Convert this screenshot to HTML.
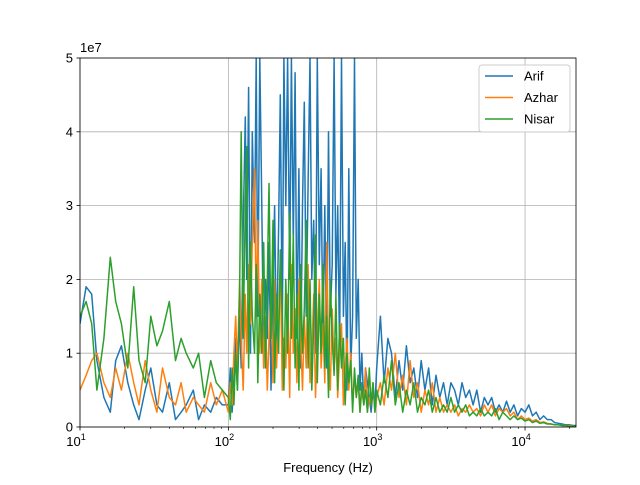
<!DOCTYPE html>
<html><head><meta charset="utf-8"><style>
body{margin:0;background:#fff}
svg{font-family:"Liberation Sans","DejaVu Sans",sans-serif}
</style></head><body>
<svg id="chart" width="640" height="480" xmlns="http://www.w3.org/2000/svg"></svg>
<script>
const freqs=[10,11,12,13,14.5,16,17.4,19,21,23,25,27.5,30,33,36,40,44,48,52,58,63,69,76,83,91,
100,103,106,109,112,115,119,122,126,130,133,137,141,145,150,154,158,163,168,173,178,183,188,194,200,205,211,218,224,231,237,244,251,259,266,274,282,290,299,307,316,325,335,345,355,365,376,387,398,410,422,434,447,460,473,487,501,516,531,546,562,579,596,613,631,649,668,688,708,729,750,772,794,818,841,866,891,917,944,972,
1000,1059,1122,1189,1259,1334,1413,1496,1585,1679,1778,1884,1995,2113,2239,2371,2512,2661,2818,2985,3162,3350,3548,3758,3981,4217,4467,4732,5012,5309,5623,5957,6310,6683,7079,7499,7943,8414,8913,9441,10000,10593,11220,11885,12589,13335,14125,14962,15849,16788,17783,18836,19953,21135,22000];
const arif=[14,19,18,9,4,2,9,11,6,3,1,5,8,3,2,6,1,2,3,5,1,3,2,4,3,
3,8,2,6,12,5,15,8,27,42,20,46,10,40,25,50,15,50,30,8,20,12,25,5,18,30,10,27,45,12,50,30,50,20,50,25,48,12,35,8,30,44,15,33,50,20,28,10,50,22,35,12,30,8,40,15,22,50,18,30,10,50,15,25,5,35,8,15,50,12,20,5,10,3,8,6,4,2,5,3,
8,15,6,12,10,4,9,5,11,6,8,4,9,5,8,3,7,4,6,3,6,5,3,6,4,5,3,5,2,4,3,4,2,3,2,3.5,2,3,1.5,2.5,2,3,1.5,2,1,1.5,1,1,0.6,0.5,0.4,0.3,0.3,0.2,0.2];
const azhar=[5,7,9,10,6,4,8,5,10,6,3,9,5,2,8,4,3,6,2,4,3,2,6,3,5,
2,6,3,10,15,8,20,12,5,18,10,22,14,25,35,15,28,10,20,8,15,5,12,18,6,20,8,15,22,5,12,8,18,4,22,10,16,6,20,12,5,15,8,22,6,10,18,4,12,20,8,14,6,25,10,5,16,8,12,4,10,14,3,8,12,5,10,3,7,4,6,2,5,3,8,2,4,3,6,2,
4,6,3,8,5,10,4,7,3,9,4,6,2,5,3,6,2,4,2,3,2,3,1.5,2.5,2,3,2,2.5,1.5,3,2,3,1.5,2.5,2,2.5,1.5,2,1,1.5,1,1.2,0.8,1,0.6,0.7,0.5,0.4,0.3,0.3,0.2,0.2,0.2,0.1,0.1];
const nisar=[15,17,14,5,12,23,17,14,8,19,9,6,15,11,13,17,9,12,10,8,10,4,9,6,5,
4,1,8,3,10,5,18,40,12,30,38,8,25,15,10,22,6,18,10,25,8,20,33,12,28,6,18,10,24,15,5,20,10,29,12,26,8,18,5,22,10,16,28,8,20,5,14,26,6,18,10,22,8,15,4,20,12,7,18,5,14,8,12,3,10,6,9,2,8,4,7,2,6,3,5,2,8,3,6,2,
5,3,7,4,9,3,6,2,5,3,6,2,4,3,5,2,4,2,3,2,4,2,3,2,3,1.5,2,1.5,2.5,1.5,2,1.5,2.5,1,2,1.5,1,1.5,1,1.2,0.8,1,0.6,0.8,0.5,0.6,0.4,0.4,0.3,0.3,0.2,0.2,0.1,0.1,0.1];
const yTicks=[0,1,2,3,4,5];
const xDecades=[1,2,3,4];
const seriesNames=["Arif","Azhar","Nisar"];
const colors=["#1f77b4","#ff7f0e","#2ca02c"];

const L=80,R=576,T=58,B=427;
const xMin=Math.log10(10),xMax=Math.log10(22050);
const X=f=>L+(Math.log10(f)-xMin)/(xMax-xMin)*(R-L);
const Y=v=>B-v/50*(B-T);
const NS="http://www.w3.org/2000/svg";
const svg=document.getElementById('chart');
function mk(tag,attrs,parent){const e=document.createElementNS(NS,tag);for(const k in attrs)e.setAttribute(k,attrs[k]);(parent||svg).appendChild(e);return e;}

// grid
yTicks.forEach(t=>{const g=mk('line',{x1:L,x2:R,y1:Y(t*10),y2:Y(t*10),stroke:'#b0b0b0','stroke-width':0.8});

});
xDecades.forEach(d=>{const x=X(Math.pow(10,d));const g=mk('line',{x1:x,x2:x,y1:T,y2:B,stroke:'#b0b0b0','stroke-width':0.8});

});

// series
const clip=mk('clipPath',{id:'pc'});mk('rect',{x:L,y:T,width:R-L,height:B-T},clip);
[arif,azhar,nisar].forEach((s,i)=>{
 const d=s.map((v,j)=>(j?'L':'M')+X(freqs[j]).toFixed(1)+','+Y(v).toFixed(1)).join('');
 const p=mk('path',{d:d,fill:'none',stroke:colors[i],'stroke-width':1.5,'clip-path':'url(#pc)','stroke-linejoin':'round'});
 
 
});

// frame
const fr=mk('rect',{x:L,y:T,width:R-L,height:B-T,fill:'none',stroke:'#000','stroke-width':0.8});



// y ticks
yTicks.forEach(t=>{const y=Y(t*10);mk('line',{x1:L-3.5,x2:L,y1:y,y2:y,stroke:'#000','stroke-width':0.8});
const tx=mk('text',{x:L-7,y:y+4.5,'text-anchor':'end','font-size':13});tx.textContent=t;

});
const off=mk('text',{x:L,y:52,'font-size':13});off.textContent='1e7';



// x ticks
for(let d=1;d<=4;d++){for(let m=1;m<10;m++){const f=m*Math.pow(10,d);if(f>22050)break;const x=X(f);
 mk('line',{x1:x,x2:x,y1:B,y2:B+(m==1?3.5:2),stroke:'#000','stroke-width':m==1?0.8:0.6});}}
xDecades.forEach(d=>{const x=X(Math.pow(10,d));const t=mk('text',{x:x-4,y:B+19,'text-anchor':'middle','font-size':13});
t.textContent='10';const s=mk('tspan',{dy:-6,'font-size':9},t);s.textContent=d;

});
const xl=mk('text',{x:328,y:472,'text-anchor':'middle','font-size':13});xl.textContent='Frequency (Hz)';



// legend
const lg=mk('g',{});


mk('rect',{x:479,y:65,width:91,height:67,rx:3,fill:'#fff','fill-opacity':0.8,stroke:'#ccc'},lg);
seriesNames.forEach((n,i)=>{const y=76+i*21.5;
 const e=mk('g',{},lg);
 
 
 mk('line',{x1:485,x2:513,y1:y,y2:y,stroke:colors[i],'stroke-width':1.5},e);
 const t=mk('text',{x:524,y:y+4.5,'font-size':13},e);t.textContent=n;});
</script>
</body></html>
